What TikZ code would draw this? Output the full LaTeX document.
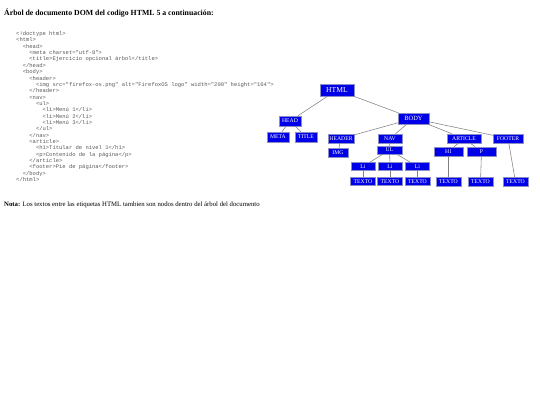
\documentclass[tikz,border=0pt]{standalone}
\usepackage{fontspec}
\setmainfont{Liberation Serif}
\newfontfamily\codefont{Liberation Mono}
\definecolor{tagfill}{RGB}{0,0,232}
\definecolor{tagline}{RGB}{140,140,200}
\tikzset{
  tag/.style={draw=tagline, fill=tagfill, text=white, inner sep=0pt,
    minimum height=9pt, minimum width=25pt, font=\fontsize{5.7}{6}\selectfont},
  link/.style={draw=gray, line width=0.55pt},
  codeline/.style={anchor=base west, inner sep=0pt, text=black!65,
    font=\codefont\fontsize{5.5}{6}\selectfont},
}
\begin{document}
\begin{tikzpicture}[x=1pt, y=-1pt]
  \useasboundingbox (0,0) rectangle (540,405);
  \node [anchor=base west, inner sep=0pt, font=\fontsize{7.8}{9}\selectfont\bfseries] (heading) at (4,15)
    {Árbol de documento DOM del codigo HTML 5 a continuación:};
  % codigo fuente
  \foreach \txt [count=\i] in {{<!doctype html>}, {<html>}, {~~<head>},
      {~~~~<meta charset="utf-8">}, {~~~~<title>Ejercicio opcional árbol</title>},
      {~~</head>}, {~~<body>}, {~~~~<header>},
      {~~~~~~<img src="firefox-os.png" alt="FirefoxOS logo" width="200" height="164">},
      {~~~~</header>}, {~~~~<nav>}, {~~~~~~<ul>},
      {~~~~~~~~<li>Menú 1</li>}, {~~~~~~~~<li>Menú 2</li>}, {~~~~~~~~<li>Menú 3</li>},
      {~~~~~~</ul>}, {~~~~</nav>}, {~~~~<article>},
      {~~~~~~<h1>Titular de nivel 1</h1>}, {~~~~~~<p>Contenido de la página</p>},
      {~~~~</article>}, {~~~~<footer>Pie de página</footer>}, {~~</body>}, {</html>}}
    \node [codeline] (c\i) at (16, {29.2+6.35*\i}) {\txt};
  % arbol
  \node [tag, minimum width=34pt, minimum height=12pt, font=\fontsize{7.6}{8}\selectfont] (html) at (337,90) {HTML};
  \node [tag, minimum width=22pt, minimum height=10pt] (head) at (290,121) {HEAD};
  \node [tag, minimum width=22pt, minimum height=10pt] (meta) at (278,137) {META};
  \node [tag, minimum width=22pt, minimum height=10pt] (ttl) at (306,137) {TITLE};
  \node [tag, minimum width=31pt, minimum height=11pt, font=\fontsize{6.4}{7}\selectfont] (body) at (413.5,118.5) {BODY};
  \node [tag, minimum width=26pt] (header) at (341,138.5) {HEADER};
  \node [tag, minimum width=20pt] (img) at (338,152.5) {IMG};
  \node [tag, minimum width=24pt] (nav) at (390,138.5) {NAV};
  \node [tag, minimum height=8pt] (ul) at (389.5,150) {UL};
  \node [tag, minimum width=34pt] (article) at (464,138.5) {ARTICLE};
  \node [tag, minimum width=30pt] (footer) at (508,138.5) {FOOTER};
  \node [tag, minimum width=29pt] (h1) at (448.5,151.5) {H1};
  \node [tag, minimum width=29pt] (p) at (481.5,151.5) {P};
  \node [tag, minimum width=24pt, minimum height=8pt] (li1) at (363,166.5) {Li};
  \node [tag, minimum width=24pt, minimum height=8pt] (li2) at (390,166.5) {Li};
  \node [tag, minimum width=24pt, minimum height=8pt] (li3) at (417.5,166.5) {Li};
  \node [tag, minimum height=8pt] (tx1) at (363,181.5) {TEXTO};
  \node [tag, minimum height=8pt] (tx2) at (390,181.5) {TEXTO};
  \node [tag, minimum height=8pt] (tx3) at (417.5,181.5) {TEXTO};
  \node [tag] (tx4) at (448.5,181.5) {TEXTO};
  \node [tag] (tx5) at (480.5,181.5) {TEXTO};
  \node [tag] (tx6) at (515.5,182) {TEXTO};
  \foreach \a/\b in {html/head, html/body, head/meta, head/ttl, body/header, body/nav,
      body/article, body/footer, header/img, nav/ul, ul/li1, ul/li2, ul/li3,
      li1/tx1, li2/tx2, li3/tx3, article/h1, article/p, h1/tx4, p/tx5, footer/tx6}
    \draw [link] (\a) -- (\b);
  \node [anchor=base west, inner sep=0pt, font=\fontsize{6.75}{8}\selectfont] (nota) at (4,206.5)
    {\textbf{Nota:} Los textos entre las etiquetas HTML tambien son nodos dentro del árbol del documento};
\end{tikzpicture}
\end{document}
